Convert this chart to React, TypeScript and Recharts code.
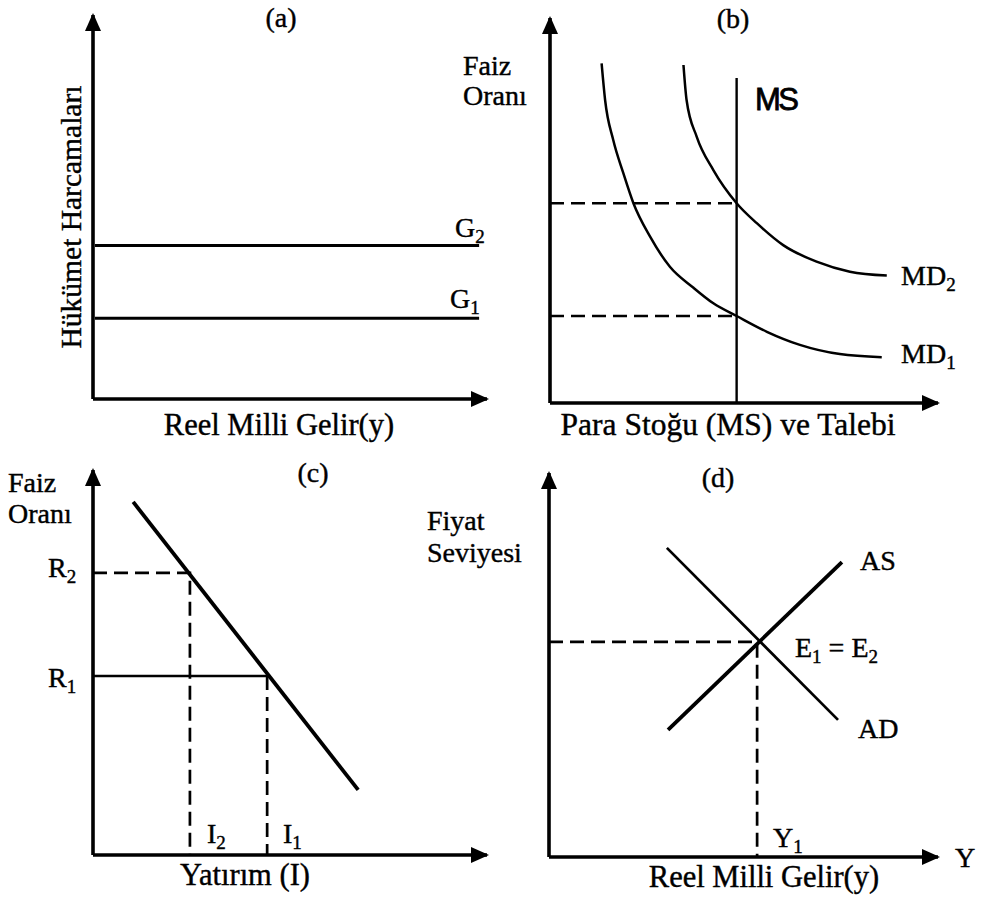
import React from "react";
import { LineChart, Line, XAxis, YAxis } from "recharts";

const SERIF = "'Liberation Serif', 'Times New Roman', serif";
const SANS = "'Liberation Sans', Arial, sans-serif";

// shared axes (units 0..10 in every panel)
const axisX = [{ x: 0, y: 0 }, { x: 10, y: 0 }];
const axisY = [{ x: 0, y: 0 }, { x: 0, y: 10 }];

// (a) government spending
const gLevels = [2.1, 4.0]; // G1, G2
const gSpan = [0.05, 9.8];

// (b) money market
const md1 = [
  { x: 1.33, y: 8.82 }, { x: 1.42, y: 7.87 }, { x: 1.63, y: 6.83 }, { x: 1.89, y: 5.97 },
  { x: 2.15, y: 5.19 }, { x: 2.58, y: 4.32 }, { x: 3.09, y: 3.54 }, { x: 3.69, y: 3.0 },
  { x: 4.21, y: 2.59 }, { x: 4.81, y: 2.26 }, { x: 5.59, y: 1.85 }, { x: 6.44, y: 1.51 },
  { x: 7.47, y: 1.27 }, { x: 8.55, y: 1.19 },
];
const md2 = [
  { x: 3.44, y: 8.78 }, { x: 3.52, y: 7.87 }, { x: 3.78, y: 6.92 }, { x: 4.21, y: 6.05 },
  { x: 4.81, y: 5.19 }, { x: 5.33, y: 4.67 }, { x: 6.01, y: 4.1 }, { x: 6.87, y: 3.67 },
  { x: 7.73, y: 3.41 }, { x: 8.68, y: 3.31 },
];
const msQty = 4.81;
const msTop = 8.44;
const rates = [2.26, 5.19];

// (c) investment
const investLine = [{ x: 1.02, y: 9.17 }, { x: 6.73, y: 1.69 }];
const rLevels = [4.65, 7.33]; // R1, R2
const iLevels = [4.42, 2.46]; // I1, I2

// (d) AS / AD
const asLine = [{ x: 3.06, y: 3.31 }, { x: 7.53, y: 7.68 }];
const adLine = [{ x: 3.03, y: 8.05 }, { x: 7.43, y: 3.57 }];
const eq = { x: 5.35, y: 5.6 };

type Box = { ox: number; oy: number; tx: number; ty: number };

function arrowDot(dir: "right" | "up") {
  return (p: any) => {
    const { cx, cy, index } = p;
    if (index !== 1) return <g key={`d${index}`} />;
    const pts =
      dir === "right"
        ? `${cx + 2},${cy} ${cx - 16},${cy - 8} ${cx - 16},${cy + 8}`
        : `${cx},${cy - 2} ${cx - 8},${cy + 16} ${cx + 8},${cy + 16}`;
    return <polygon key={`d${index}`} points={pts} fill="#000" />;
  };
}

function line(data: any[], width: number, dashed = false, curve = false, key?: string) {
  return (
    <Line
      key={key}
      data={data}
      dataKey="y"
      type={curve ? "monotone" : "linear"}
      stroke="#000"
      strokeWidth={width}
      strokeDasharray={dashed ? "14 7" : undefined}
      dot={false}
      activeDot={false}
      isAnimationActive={false}
    />
  );
}

function Panel({ box, children }: { box: Box; children: React.ReactNode }) {
  const m = 20;
  return (
    <div style={{ position: "absolute", left: box.ox - m, top: box.ty - m }}>
      <LineChart
        width={box.tx - box.ox + 2 * m}
        height={box.oy - box.ty + 2 * m}
        margin={{ top: m, right: m, bottom: m, left: m }}
      >
        <XAxis type="number" dataKey="x" domain={[0, 10]} hide />
        <YAxis type="number" domain={[0, 10]} hide />
        {children}
        <Line data={axisX} dataKey="y" type="linear" stroke="#000" strokeWidth={3.6}
          dot={arrowDot("right")} activeDot={false} isAnimationActive={false} />
        <Line data={axisY} dataKey="y" type="linear" stroke="#000" strokeWidth={3.6}
          dot={arrowDot("up")} activeDot={false} isAnimationActive={false} />
      </LineChart>
    </div>
  );
}

function T({ x, y, children, size = 28, anchor = "start", family = SERIF, ...rest }: any) {
  return (
    <text x={x} y={y} fontSize={size} fontFamily={family} textAnchor={anchor} fill="#000"
      stroke="#000" strokeWidth={0.4} {...rest}>
      {children}
    </text>
  );
}

const Sub = ({ c }: { c: string }) => (
  <tspan fontSize={19} dy={6}>{c}</tspan>
);

export default function App() {
  const boxA = { ox: 93, oy: 399, tx: 487, ty: 15 };
  const boxB = { ox: 550, oy: 403, tx: 938, ty: 18 };
  const boxC = { ox: 93, oy: 855, tx: 487, ty: 470 };
  const boxD = { ox: 549, oy: 857, tx: 938, ty: 473 };

  return (
    <div style={{ position: "absolute", left: 0, top: 0, width: 981, height: 909, background: "#fff" }}>
      <Panel box={boxA}>
        {gLevels.map((g, i) => line(gSpan.map((x) => ({ x, y: g })), 3, false, false, `g${i}`))}
      </Panel>

      <Panel box={boxB}>
        {rates.map((r, i) => line([{ x: 0, y: r }, { x: msQty, y: r }], 2.6, true, false, `r${i}`))}
        {line([{ x: msQty, y: 0 }, { x: msQty, y: msTop }], 2.4, false, false, "ms")}
        {line(md1, 2.5, false, true, "md1")}
        {line(md2, 2.5, false, true, "md2")}
      </Panel>

      <Panel box={boxC}>
        {line([{ x: 0, y: rLevels[1] }, { x: iLevels[1], y: rLevels[1] }, { x: iLevels[1], y: 0 }], 2.7, true, false, "r2")}
        {line([{ x: 0, y: rLevels[0] }, { x: iLevels[0], y: rLevels[0] }], 2.7, false, false, "r1")}
        {line([{ x: iLevels[0], y: rLevels[0] }, { x: iLevels[0], y: 0 }], 2.7, true, false, "i1")}
        {line(investLine, 3.8, false, false, "inv")}
      </Panel>

      <Panel box={boxD}>
        {line([{ x: 0, y: eq.y }, { x: eq.x, y: eq.y }, { x: eq.x, y: 0 }], 2.7, true, false, "eq")}
        {line(adLine, 2.7, false, false, "ad")}
        {line(asLine, 3.8, false, false, "as")}
      </Panel>

      <svg width={981} height={909} style={{ position: "absolute", left: 0, top: 0, pointerEvents: "none" }}>
        {/* (a) */}
        <T x={281} y={27} anchor="middle">(a)</T>
        <T x={81} y={217} anchor="middle" size={29.5} transform="rotate(-90 81 217)">Hükümet Harcamaları</T>
        <T x={279} y={435} anchor="middle" size={30.5}>Reel Milli Gelir(y)</T>
        <T x={455} y={237}>G<Sub c="2" /></T>
        <T x={450} y={308}>G<Sub c="1" /></T>

        {/* (b) */}
        <T x={733} y={28} anchor="middle">(b)</T>
        <T x={463} y={75}>Faiz</T>
        <T x={463} y={105}>Oranı</T>
        <T x={755} y={110} family={SANS} size={31} letterSpacing={-2.5} strokeWidth={0.8}>MS</T>
        <T x={901} y={285}>MD<Sub c="2" /></T>
        <T x={901} y={363}>MD<Sub c="1" /></T>
        <T x={728} y={435} anchor="middle" size={31.5}>Para Stoğu (MS) ve Talebi</T>

        {/* (c) */}
        <T x={313} y={482} anchor="middle">(c)</T>
        <T x={8} y={492}>Faiz</T>
        <T x={8} y={523}>Oranı</T>
        <T x={48} y={577}>R<Sub c="2" /></T>
        <T x={48} y={687}>R<Sub c="1" /></T>
        <T x={207} y={843}>I<Sub c="2" /></T>
        <T x={283} y={843}>I<Sub c="1" /></T>
        <T x={245} y={885} anchor="middle" size={30.5}>Yatırım (I)</T>

        {/* (d) */}
        <T x={718} y={487} anchor="middle">(d)</T>
        <T x={427} y={530}>Fiyat</T>
        <T x={427} y={562}>Seviyesi</T>
        <T x={860} y={570}>AS</T>
        <T x={858} y={738}>AD</T>
        <T x={795} y={657}>E<Sub c="1" /><tspan dy={-6}> = E</tspan><Sub c="2" /></T>
        <T x={773} y={847}>Y<Sub c="1" /></T>
        <T x={955} y={867}>Y</T>
        <T x={764} y={887} anchor="middle" size={30.5}>Reel Milli Gelir(y)</T>
      </svg>
    </div>
  );
}
